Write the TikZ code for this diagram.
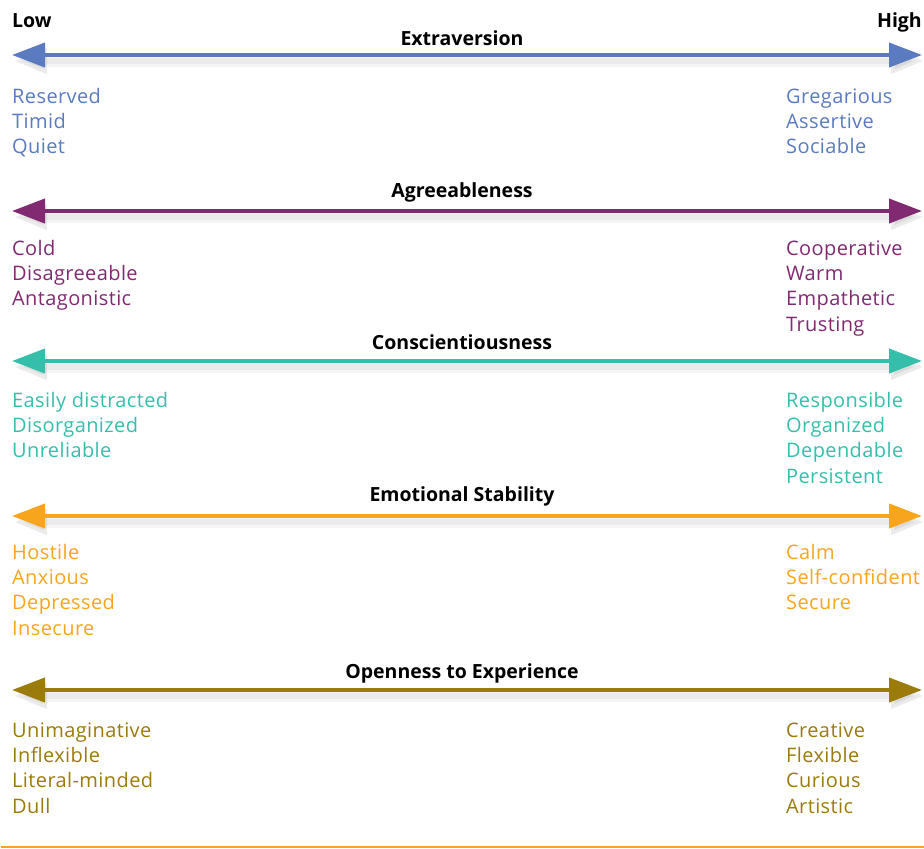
\documentclass[tikz,border=0pt]{standalone}
\usepackage{fontspec}
\setmainfont{Open Sans}
\usetikzlibrary{arrows.meta}
\definecolor{extblue}{RGB}{90,123,192}
\definecolor{agrpurple}{RGB}{129,42,114}
\definecolor{conteal}{RGB}{53,190,170}
\definecolor{emoorange}{RGB}{248,165,30}
\definecolor{opeolive}{RGB}{154,123,12}
\tikzset{trait/.style = {line width=4pt, {Triangle[length=33pt,width=24pt]}-{Triangle[length=33pt,width=24pt]},
           preaction={draw=black, opacity=0.04, line width=11pt, transform canvas={shift={(2pt,-6pt)}}},
           preaction={draw=black, opacity=0.04, line width=6pt, transform canvas={shift={(2pt,-6pt)}}}},
         title/.style = {font=\fontsize{19.5}{22}\selectfont\bfseries, anchor=base, inner sep=0pt},
         item/.style = {font=\fontsize{20}{24}\selectfont\addfontfeature{LetterSpace=2}, anchor=base west, inner sep=0pt}}

\begin{document}
\begin{tikzpicture}[x=1pt,y=-1pt]
    \useasboundingbox (0,0) rectangle (924,849);
    \node[item, font=\fontsize{19.5}{22}\selectfont\bfseries](low)at(12,27){Low};
    \node[item, anchor=base east, font=\fontsize{19.5}{22}\selectfont\bfseries](high)at(922,27){High};

    % Extraversion
    \coordinate(ext-l)at(12,55); \coordinate(ext-r)at(922,55);
    \draw[trait, extblue](ext-l)--(ext-r);
    \node[title](ext)at(462,45){Extraversion};
    \foreach \w [count=\i] in {Reserved,Timid,Quiet}
        \node[item, text=extblue](ext-lo-\i)at(12,103+25.4*\i-25.4){\w};
    \foreach \w [count=\i] in {Gregarious,Assertive,Sociable}
        \node[item, text=extblue](ext-hi-\i)at(786,103+25.4*\i-25.4){\w};

    % Agreeableness
    \coordinate(agr-l)at(12,211); \coordinate(agr-r)at(922,211);
    \draw[trait, agrpurple](agr-l)--(agr-r);
    \node[title](agr)at(462,197){Agreeableness};
    \foreach \w [count=\i] in {Cold,Disagreeable,Antagonistic}
        \node[item, text=agrpurple](agr-lo-\i)at(12,255+25.4*\i-25.4){\w};
    \foreach \w [count=\i] in {Cooperative,Warm,Empathetic,Trusting}
        \node[item, text=agrpurple](agr-hi-\i)at(786,255+25.4*\i-25.4){\w};

    % Conscientiousness
    \coordinate(con-l)at(12,361); \coordinate(con-r)at(922,361);
    \draw[trait, conteal](con-l)--(con-r);
    \node[title](con)at(462,349){Conscientiousness};
    \foreach \w [count=\i] in {Easily distracted,Disorganized,Unreliable}
        \node[item, text=conteal](con-lo-\i)at(12,407+25.4*\i-25.4){\w};
    \foreach \w [count=\i] in {Responsible,Organized,Dependable,Persistent}
        \node[item, text=conteal](con-hi-\i)at(786,407+25.4*\i-25.4){\w};

    % Emotional Stability
    \coordinate(emo-l)at(12,516); \coordinate(emo-r)at(922,516);
    \draw[trait, emoorange](emo-l)--(emo-r);
    \node[title](emo)at(462,501){Emotional Stability};
    \foreach \w [count=\i] in {Hostile,Anxious,Depressed,Insecure}
        \node[item, text=emoorange](emo-lo-\i)at(12,559+25.4*\i-25.4){\w};
    \foreach \w [count=\i] in {Calm,Self-confident,Secure}
        \node[item, text=emoorange](emo-hi-\i)at(786,559+25.4*\i-25.4){\w};

    % Openness to Experience
    \coordinate(ope-l)at(12,690); \coordinate(ope-r)at(922,690);
    \draw[trait, opeolive](ope-l)--(ope-r);
    \node[title](ope)at(462,678){Openness to Experience};
    \foreach \w [count=\i] in {Unimaginative,Inflexible,Literal-minded,Dull}
        \node[item, text=opeolive](ope-lo-\i)at(12,737+25.4*\i-25.4){\w};
    \foreach \w [count=\i] in {Creative,Flexible,Curious,Artistic}
        \node[item, text=opeolive](ope-hi-\i)at(786,737+25.4*\i-25.4){\w};

    \coordinate(base-l)at(1,847); \coordinate(base-r)at(924,847);
    \draw[emoorange, line width=2pt](base-l)--(base-r);
\end{tikzpicture}
\end{document}
